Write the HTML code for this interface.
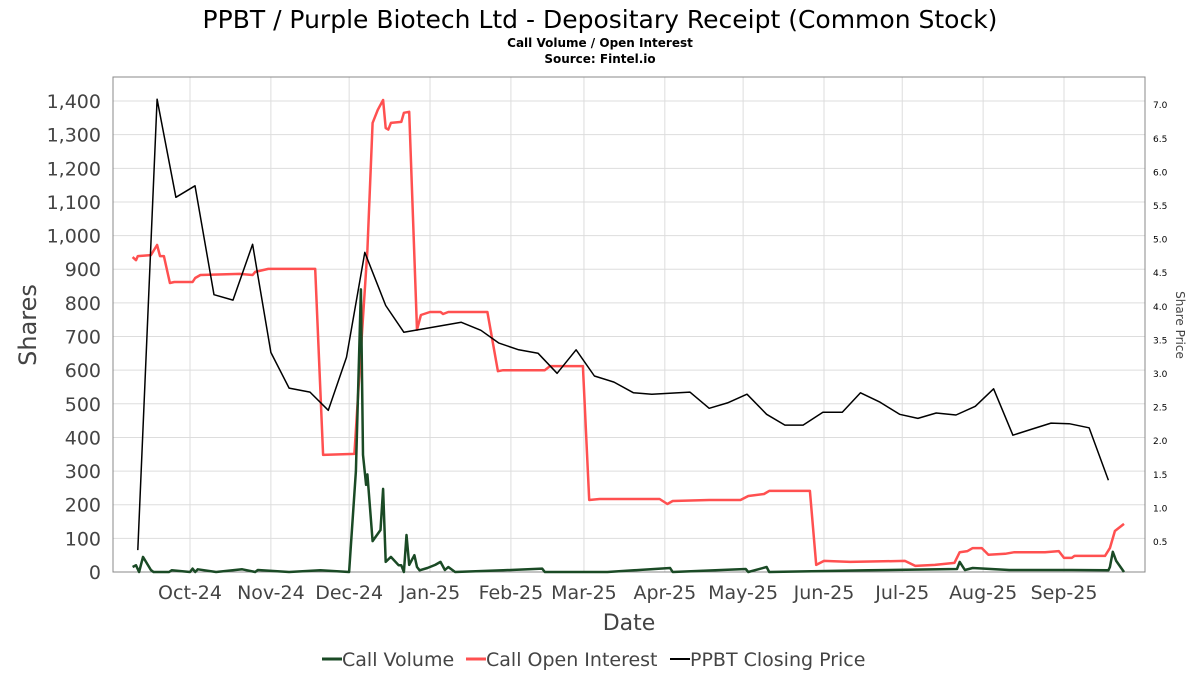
<!DOCTYPE html>
<html><head><meta charset="utf-8"><style>
body{margin:0;background:#fff;font-family:"DejaVu Sans","Liberation Sans",sans-serif}
svg text{font-family:"DejaVu Sans","Liberation Sans",sans-serif}
</style></head><body>
<svg id="c" width="1200" height="675" xmlns="http://www.w3.org/2000/svg">
<text x="600" y="28" font-size="25" text-anchor="middle" fill="#000">PPBT / Purple Biotech Ltd - Depositary Receipt (Common Stock)</text>
<text x="600" y="47" font-size="12" font-weight="bold" text-anchor="middle">Call Volume / Open Interest</text>
<text x="600" y="63" font-size="12" font-weight="bold" text-anchor="middle">Source: Fintel.io</text>
<g id="grid"></g>
<rect x="113" y="77" width="1032" height="495" fill="none" stroke="#888"></rect>
<g id="ticks"></g>
<g id="series"></g>
<text x="36" y="325" font-size="24" fill="#444" text-anchor="middle" transform="rotate(-90 36 325)">Shares</text>
<text x="1176" y="325" font-size="12" fill="#444" text-anchor="middle" transform="rotate(90 1176 325)">Share Price</text>
<text x="629" y="630" font-size="22" fill="#444" text-anchor="middle">Date</text>
<g font-size="19" fill="#444">
<g><line x1="322" y1="659" x2="342" y2="659" stroke="#1a4a25" stroke-width="3"/><text x="342" y="666">Call Volume</text></g>
<g><line x1="466" y1="659" x2="486" y2="659" stroke="#ff5050" stroke-width="3"/><text x="486" y="666">Call Open Interest</text></g>
<g><line x1="670" y1="659" x2="690" y2="659" stroke="#000" stroke-width="2"/><text x="690" y="666">PPBT Closing Price</text></g>
</g>
</svg>
<script>
const monthLabels=["Oct-24","Nov-24","Dec-24","Jan-25","Feb-25","Mar-25","Apr-25","May-25","Jun-25","Jul-25","Aug-25","Sep-25"];
const monthDays=[0,31,61,92,123,151,182,212,243,273,304,335];
const leftTicks=[0,100,200,300,400,500,600,700,800,900,1000,1100,1200,1300,1400];
const rightTicks=[0.5,1.0,1.5,2.0,2.5,3.0,3.5,4.0,4.5,5.0,5.5,6.0,6.5,7.0];
const priceDays=[-20,-12.6,-5.4,1.9,9.2,16.5,24,31,38,46,53,60,67,75,82,104,111.5,118.4,126,133.4,140.7,148,155,162.5,170,177,191.6,199,206,213.5,221,228,235,242.6,250,257,264.5,272,279,286,293.6,301,308,315.4,322.7,330,337,344.6,352];
const priceVals=[0.38,7.09,5.63,5.80,4.18,4.10,4.93,3.32,2.79,2.73,2.46,3.25,4.81,4.02,3.62,3.77,3.65,3.46,3.36,3.31,3.01,3.36,2.97,2.88,2.72,2.70,2.73,2.49,2.57,2.70,2.40,2.24,2.24,2.43,2.43,2.72,2.58,2.40,2.34,2.42,2.39,2.52,2.78,2.09,2.18,2.27,2.26,2.20,1.42];
const oiDays=[-22,-20.7,-20,-15,-12.6,-11.5,-10,-7.7,-6,1,2,4,19,24,25,30,48,51,63,66,68,70,72,74,75,76,77,81,82,84,87,88.5,92,96,97,99,114,118,120,136,138,150.6,153,157,180,183,185,199,211,214,220,222,237.6,240,243,253,274,278,285.5,293,295,298,300,303.5,306,312.4,316,327.7,333,335,338,339,350.7,352.6,354.5,358];
const oiVals=[936,927,939,942,972,939,939,859,862,862,874,883,886,883,892,901,901,348,351,720,957,1335,1374,1403,1320,1315,1335,1338,1365,1368,720,764,773,773,767,773,773,597,600,600,612,612,214,217,217,202,211,214,214,226,232,241,241,21,33,30,33,18,21,27,59,62,71,71,51,54,59,59,62,42,42,48,48,71,122,143];
const volDays=[-22,-20.7,-19.5,-18,-15,-14,-8,-7,0,1,2,3,10,20,25,26,38,50,61,63.6,65.5,66.3,67.5,68,70,73,74,75,77,80,81,82,83,84,86,87,88,91,94,96,97.7,99,101.6,120,135,136,160,184,185,213,214,221,222,260,294,295,297,300,314,338,352,352.6,353.7,355,358];
const volVals=[15,20,0,45,6,0,0,5,0,10,0,8,0,8,0,6,0,5,0,300,840,348,259,290,92,125,247,30,45,20,20,0,110,21,50,15,5,12,21,30,6,15,0,5,10,0,0,12,0,9,0,15,0,5,9,30,6,12,6,6,5,15,60,33,0];
const X=d=>190+d*2.609, YL=v=>572-v*0.3364, YR=v=>575.6-v*67.2;
const NS="http://www.w3.org/2000/svg";
function mk(t,a,p){const e=document.createElementNS(NS,t);for(const k in a)e.setAttribute(k,a[k]);p.appendChild(e);return e;}
const grid=document.getElementById('grid'),ticks=document.getElementById('ticks'),ser=document.getElementById('series');
leftTicks.forEach(v=>{
 const l=mk('line',{x1:113,x2:1145,y1:YL(v),y2:YL(v),stroke:'#ddd'},grid);
 
 
 const t=mk('text',{x:101,y:YL(v)+7,'font-size':19,fill:'#444','text-anchor':'end'},ticks);
 t.textContent=v.toLocaleString('en-US');
 
 
});
rightTicks.forEach(v=>{
 const t=mk('text',{x:1153,y:YR(v)+3,'font-size':9,fill:'#000'},ticks);
 t.textContent=v.toFixed(1);
 
 
});
monthDays.forEach((d,i)=>{
 const l=mk('line',{x1:X(d),x2:X(d),y1:77,y2:572,stroke:'#ddd'},grid);
 
 
 const t=mk('text',{x:X(d),y:599,'font-size':19,fill:'#444','text-anchor':'middle'},ticks);
 t.textContent=monthLabels[i];
 
 
});
function line(days,vals,yf,col,w,name){
 const p=mk('polyline',{points:days.map((d,i)=>X(d).toFixed(1)+','+yf(vals[i]).toFixed(1)).join(' '),fill:'none',stroke:col,'stroke-width':w,'stroke-linejoin':'round'},ser);
 
 
}
line(oiDays,oiVals,YL,'#ff5050',2.5,'open-interest-line');
line(priceDays,priceVals,YR,'#000',1.5,'closing-price-line');
line(volDays,volVals,YL,'#1a4a25',2.5,'call-volume-line');
</script>
</body></html>
